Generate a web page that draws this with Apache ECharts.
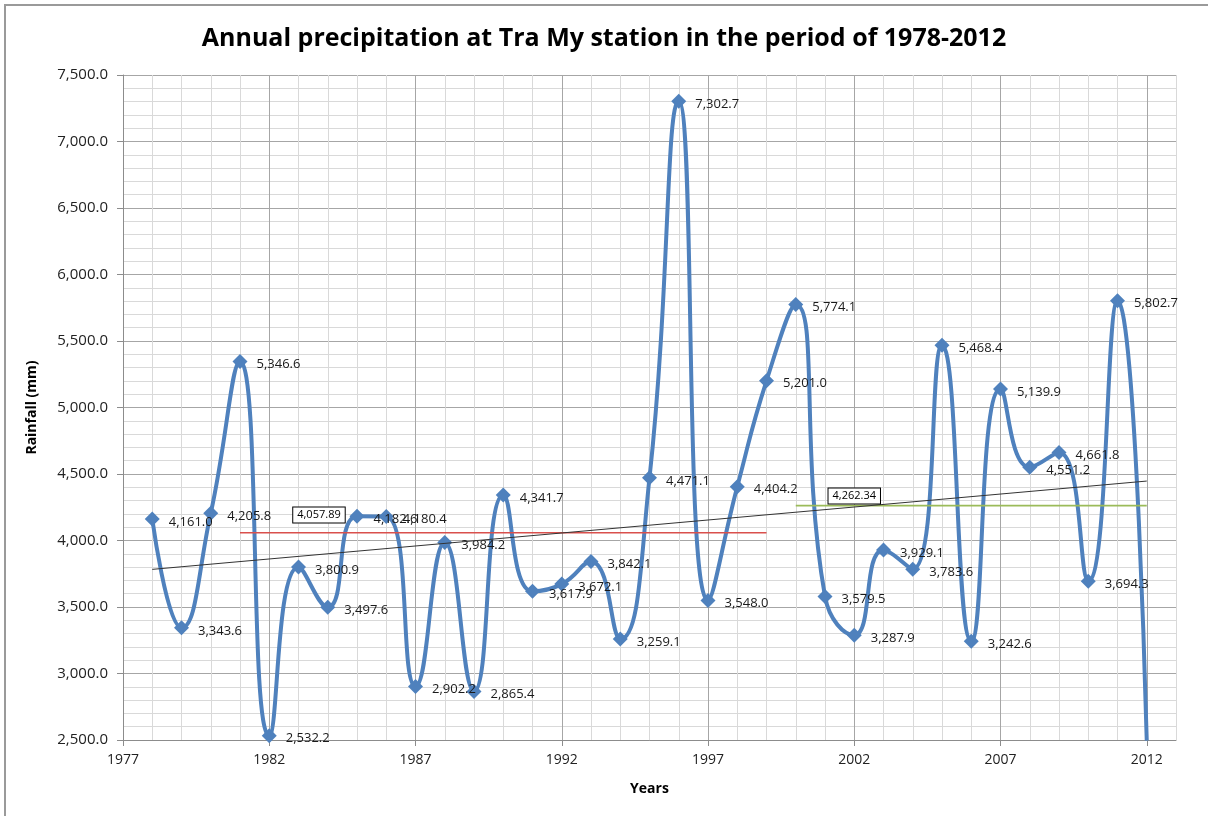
<!DOCTYPE html>
<html>
<head>
<meta charset="utf-8">
<title>Annual precipitation at Tra My station</title>
<script src="https://cdn.jsdelivr.net/npm/echarts@6/dist/echarts.min.js"></script>
<style>
  html, body { margin: 0; padding: 0; background: #fff; }
  #chart { width: 1208px; height: 816px; }
</style>
</head>
<body>
<div id="chart"></div>
<script>
// years and annual rainfall (mm)
var years = [1978, 1979, 1980, 1981, 1982, 1983, 1984, 1985, 1986, 1987, 1988, 1989,
             1990, 1991, 1992, 1993, 1994, 1995, 1996, 1997, 1998, 1999, 2000, 2001,
             2002, 2003, 2004, 2005, 2006, 2007, 2008, 2009, 2010, 2011, 2012];
var rainfall = [4161.0, 3343.6, 4205.8, 5346.6, 2532.2, 3800.9, 3497.6, 4182.6, 4180.4, 2902.2, 3984.2, 2865.4,
                4341.7, 3617.9, 3672.1, 3842.1, 3259.1, 4471.1, 7302.7, 3548.0, 4404.2, 5201.0, 5774.1, 3579.5,
                3287.9, 3929.1, 3783.6, 5468.4, 3242.6, 5139.9, 4551.2, 4661.8, 3694.3, 5802.7, 2495.3];

// average lines (start year, end year, value)
var meanEarly = [1981, 1999, 4057.89];
var meanLate = [2000, 2012, 4262.34];
// linear trend end points
var trendYears = [1978, 2012];
var trendValues = [3783, 4447];
// where the boxed average labels sit
var boxYears = [1983.7, 2002.0];
var boxValues = [4191, 4335];

function fmt(v, d) {
    return v.toLocaleString('en-US', { minimumFractionDigits: d, maximumFractionDigits: d });
}

var chart = echarts.init(document.getElementById('chart'));
var font = '"Open Sans", sans-serif';

var mainData = years.map(function (y, i) {
    var item = { value: [y, rainfall[i]] };
    if (rainfall[i] < 2500) {
        item.symbol = 'none';
        item.label = { show: false };
    }
    return item;
});

var option = {
    backgroundColor: '#fff',
    animation: false,
    title: {
        text: 'Annual precipitation at Tra My station in the period of 1978-2012',
        left: 'center',
        top: 21,
        textStyle: { fontFamily: font, fontWeight: 'bold', fontSize: 25, color: '#000' }
    },
    graphic: [{
        type: 'rect',
        shape: { x: 5, y: 5, width: 1300, height: 900 },
        style: { fill: 'none', stroke: '#9a9a9a', lineWidth: 2 },
        silent: true
    }],
    grid: { left: 123, right: 32, top: 75, bottom: 76 },
    xAxis: [{
        type: 'value',
        min: 1977,
        max: 2013,
        interval: 5,
        name: 'Years',
        nameLocation: 'middle',
        nameGap: 42,
        nameTextStyle: { fontFamily: font, fontWeight: 'bold', fontSize: 14, color: '#000' },
        axisLine: { show: true, lineStyle: { color: '#8c8c8c', width: 1 } },
        axisTick: { show: true, length: 6, lineStyle: { color: '#8c8c8c' } },
        axisLabel: {
            showMaxLabel: false,
            fontFamily: font, fontSize: 14, color: '#222', margin: 13,
            formatter: function (v) { return String(v); }
        },
        splitLine: { show: false }
    }, {
        type: 'value',
        min: 1977,
        max: 2013,
        interval: 1,
        axisLine: { show: false },
        axisTick: { show: false },
        axisLabel: { show: false },
        splitLine: {
            show: true,
            lineStyle: { color: ['#a6a6a6', '#d9d9d9', '#d9d9d9', '#d9d9d9', '#d9d9d9'], width: 1 }
        }
    }],
    yAxis: {
        type: 'value',
        min: 2500,
        max: 7500,
        interval: 500,
        name: 'Rainfall (mm)',
        nameLocation: 'middle',
        nameGap: 84,
        nameRotate: 90,
        nameTextStyle: { fontFamily: font, fontWeight: 'bold', fontSize: 14, color: '#000' },
        axisLine: { show: true, lineStyle: { color: '#8c8c8c', width: 1 } },
        axisTick: { show: true, length: 6, lineStyle: { color: '#8c8c8c' } },
        axisLabel: {
            fontFamily: font, fontSize: 15, color: '#222', margin: 15,
            formatter: function (v) { return fmt(v, 1); }
        },
        splitLine: { show: true, lineStyle: { color: '#a6a6a6', width: 1 } },
        minorTick: { show: false, splitNumber: 5 },
        minorSplitLine: { show: true, lineStyle: { color: '#d9d9d9', width: 1 } }
    },
    series: [{
        name: 'Rainfall',
        type: 'line',
        xAxisIndex: 0,
        data: mainData,
        smooth: 0.5,
        clip: true,
        symbol: 'diamond',
        symbolSize: 15,
        lineStyle: { color: '#4f81bd', width: 4 },
        itemStyle: { color: '#4f81bd' },
        label: {
            show: true,
            position: 'right',
            distance: 9,
            offset: [0, 3],
            fontFamily: font,
            fontSize: 13,
            color: '#1a1a1a',
            formatter: function (p) { return fmt(p.value[1], 1); }
        },
        z: 2
    }, {
        name: 'Mean 1981-1999',
        type: 'line',
        xAxisIndex: 0,
        data: [[meanEarly[0], meanEarly[2]], [meanEarly[1], meanEarly[2]]],
        symbol: 'none',
        lineStyle: { color: '#d9504d', width: 1.6 },
        z: 3
    }, {
        name: 'Mean 2000-2012',
        type: 'line',
        xAxisIndex: 0,
        data: [[meanLate[0], meanLate[2]], [meanLate[1], meanLate[2]]],
        symbol: 'none',
        lineStyle: { color: '#9bbb59', width: 1.6 },
        z: 3
    }, {
        name: 'Trend',
        type: 'line',
        xAxisIndex: 0,
        data: [[trendYears[0], trendValues[0]], [trendYears[1], trendValues[1]]],
        symbol: 'none',
        lineStyle: { color: '#333', width: 1 },
        z: 3
    }, {
        name: 'Mean labels',
        type: 'scatter',
        xAxisIndex: 0,
        symbolSize: 0,
        itemStyle: { opacity: 1 },
        data: [
            [boxYears[0], boxValues[0], meanEarly[2]],
            [boxYears[1], boxValues[1], meanLate[2]]
        ],
        label: {
            show: true,
            position: 'inside',
            fontFamily: font,
            fontSize: 11,
            color: '#000',
            opacity: 1,
            backgroundColor: '#fff',
            borderColor: '#000',
            borderWidth: 1,
            padding: [2, 4],
            formatter: function (p) { return fmt(p.value[2], 2); }
        },
        z: 4
    }]
};

chart.setOption(option);
</script>
</body>
</html>
